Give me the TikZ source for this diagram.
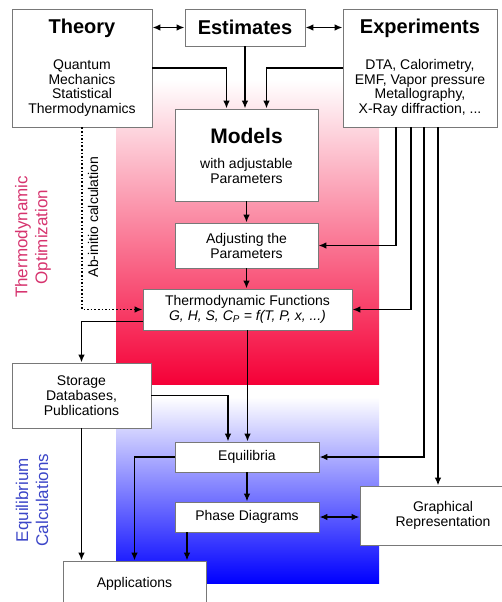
\documentclass[tikz,border=0pt]{standalone}
\usepackage{fontspec}
\setmainfont{Liberation Sans}
\usetikzlibrary{arrows.meta}
\definecolor{optred}{RGB}{245,0,55}
\definecolor{optblue}{RGB}{0,0,255}
\definecolor{opttext}{RGB}{214,51,110}
\definecolor{eqtext}{RGB}{60,70,200}
\definecolor{boxline}{RGB}{120,120,120}
\tikzset{every picture/.style={line width=1.6pt}}
\tikzset{box/.style={draw=boxline, line width=0.8pt, fill=white, align=center, inner sep=0pt, font=\fontsize{14}{15}\selectfont}}
\tikzset{heading/.style={font=\fontsize{20}{24}\selectfont\bfseries}}
\tikzset{body/.style={align=center, font=\fontsize{14}{14.5}\selectfont}}
\tikzset{arr/.style={-{Latex[length=8pt,width=6.5pt]}}}
\tikzset{dblarr/.style={{Latex[length=8pt,width=6.5pt]}-{Latex[length=8pt,width=6.5pt]}}}

\begin{document}
\begin{tikzpicture}[x=1pt,y=-1pt]
  \useasboundingbox (0,0) rectangle (502,602);
  \shade[top color=white, bottom color=optred] (116,80) rectangle (379,384);
  \shade[top color=white, bottom color=optblue] (116,397) rectangle (379,583);

  \node[box, minimum width=140pt, minimum height=118pt] (theory) at (82,68) {};
  \node[heading, anchor=base] (theorytitle) at (82,34) {Theory};
  \node[body] (theorytext) at (82,88) {Quantum\\Mechanics\\Statistical\\Thermodynamics};
  \node[box, heading, minimum width=120pt, minimum height=37pt] (estimates) at (245,27.5) {Estimates};
  \node[box, minimum width=154pt, minimum height=118pt] (experiments) at (420,68) {};
  \node[heading, anchor=base] (exptitle) at (420,34) {Experiments};
  \node[body] (exptext) at (420,88) {DTA, Calorimetry,\\EMF, Vapor pressure\\Metallography,\\X-Ray diffraction, ...};

  \node[box, minimum width=143pt, minimum height=92pt] (models) at (246.5,155) {};
  \node[heading, font=\fontsize{21}{24}\selectfont\bfseries, anchor=base] (modeltitle) at (246.5,143) {Models};
  \node[body] (modeltext) at (246.5,171) {with adjustable\\Parameters};
  \node[box, minimum width=143pt, minimum height=45pt] (adjust) at (246.5,245.5) {Adjusting the\\Parameters};
  \node[box, minimum width=209pt, minimum height=41pt] (funcs) at (247.5,309.5) {Thermodynamic Functions\\{\itshape G, H, S, C\textsubscript{P} = f(T, P, x, ...)}};
  \node[box, minimum width=139pt, minimum height=65pt] (storage) at (81.5,395.5) {Storage\\Databases,\\Publications};
  \node[box, minimum width=144pt, minimum height=30pt] (equil) at (247,457) {Equilibria};
  \node[box, minimum width=144pt, minimum height=30pt] (phase) at (247,517) {Phase Diagrams};
  \node[box, minimum width=166pt, minimum height=59pt] (graph) at (443,515.5) {Graphical\\Representation};
  \node[box, minimum width=143pt, minimum height=46pt] (apps) at (134.5,584) {Applications};

  \node[rotate=90, align=center, text=opttext, font=\fontsize{17}{20}\selectfont] (optlabel) at (33,237) {Thermodynamic\\Optimization};
  \node[rotate=90, align=center, text=eqtext, font=\fontsize{17}{20}\selectfont] (eqlabel) at (32,500) {Equilibrium\\Calculations};
  \node[rotate=90, font=\fontsize{14}{15}\selectfont] (abinitio) at (93,217) {Ab-initio calculation};

  \draw[dblarr] (theory.east |- estimates.west) -- (estimates.west);
  \draw[dblarr] (estimates.east) -- (estimates.east -| experiments.west);
  \draw[arr] (theory.east) -| ([xshift=-20pt]models.north);
  \draw[arr] (estimates.south) -- (estimates.south |- models.north);
  \draw[arr] (experiments.west) -| ([xshift=20pt]models.north);
  \draw[arr] (models.south) -- (adjust.north);
  \draw[arr] (adjust.south) -- (adjust.south |- funcs.north);
  \draw[arr] ([xshift=-24pt]experiments.south) |- (adjust.east);
  \draw[arr] ([xshift=-9pt]experiments.south) |- (funcs.east);
  \draw[arr] ([xshift=4pt]experiments.south) |- (equil.east);
  \draw[arr] ([xshift=18pt]experiments.south) -- ([xshift=18pt]experiments.south |- graph.north);
  \draw[arr, dotted] (theory.south) |- (funcs.west);
  \draw[arr] ([yshift=-12pt]funcs.west) -| (storage.north);
  \draw[arr] (funcs.south) -- (funcs.south |- equil.north);
  \draw[arr] (storage.east) -| ([xshift=-19pt]equil.north);
  \draw[arr] (storage.south) -- (storage.south |- apps.north);
  \draw[arr] (equil.west) -| (apps.north);
  \draw[arr] (equil.south) -- (phase.north);
  \draw[arr] ([xshift=-60pt]phase.south) -- ([xshift=-60pt]phase.south |- apps.north);
  \draw[dblarr] (phase.east) -- (phase.east -| graph.west);
\end{tikzpicture}
\end{document}
